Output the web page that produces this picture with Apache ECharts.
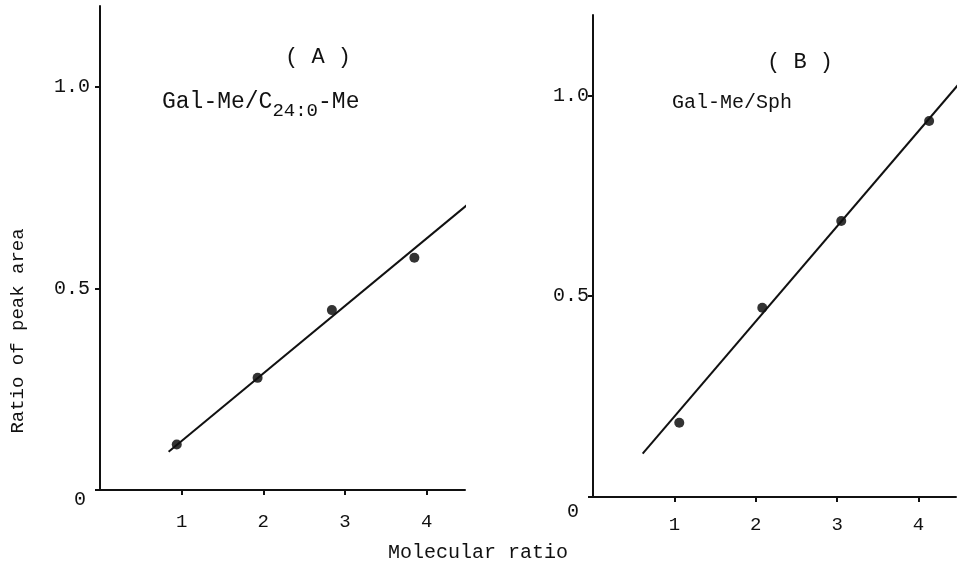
<!DOCTYPE html>
<html>
<head>
<meta charset="utf-8">
<script src="https://cdn.jsdelivr.net/npm/echarts@6/dist/echarts.min.js"></script>
<style>
html,body{margin:0;padding:0;background:#fff}
#main{width:966px;height:571px}
</style>
</head>
<body>
<div id="main"></div>
<script>
// panel A : Gal-Me / C24:0-Me
var ratioA = [0.94, 1.93, 2.84, 3.85];
var areaA = [0.113, 0.278, 0.446, 0.576];
var fitRatioA = [0.84, 4.54];
var fitAreaA = [0.095, 0.714];

// panel B : Gal-Me / Sph
var ratioB = [1.06, 2.08, 3.05, 4.13];
var areaB = [0.185, 0.471, 0.687, 0.936];
var fitRatioB = [0.61, 4.54];
var fitAreaB = [0.108, 1.039];

var xTicks = [1, 2, 3, 4];
var yTicks = [0, 0.5, 1.0];

var mono = '"Liberation Mono", "DejaVu Sans Mono", monospace';
var ink = '#111';

function pairs(xs, ys) {
  return xs.map(function (x, i) { return [x, ys[i]]; });
}

function xAx(idx, max, margin) {
  return {
    type: 'value', gridIndex: idx, min: 0, max: max,
    axisLine: { lineStyle: { color: ink, width: 2 } },
    axisTick: { customValues: xTicks, length: 5, lineStyle: { color: ink, width: 2 } },
    axisLabel: { customValues: xTicks, color: ink, fontSize: 19, fontFamily: mono, margin: margin },
    splitLine: { show: false }
  };
}

function yAx(idx, margin, zeroPad) {
  return {
    type: 'value', gridIndex: idx, min: 0, max: 1.2,
    axisLine: { show: true, lineStyle: { color: ink, width: 2 } },
    axisTick: { show: true, customValues: yTicks, length: 5, lineStyle: { color: ink, width: 2 } },
    axisLabel: {
      customValues: yTicks, color: ink, fontSize: 20, fontFamily: mono, margin: margin,
      formatter: function (v) { return v === 0 ? '{z|0}' : v.toFixed(1); },
      rich: { z: { fontSize: 20, fontFamily: mono, color: ink, padding: zeroPad } }
    },
    splitLine: { show: false }
  };
}

var chart = echarts.init(document.getElementById('main'));
var option = {
  backgroundColor: '#fff',
  animation: false,
  grid: [
    { left: 100, top: 6, width: 365, height: 484 },
    { left: 593, top: 15, width: 363, height: 482 }
  ],
  xAxis: [xAx(0, 4.47, 22), xAx(1, 4.46, 18)],
  yAxis: [yAx(0, 10, [20, 4, 0, 0]), yAx(1, 4, [30, 10, 0, 0])],
  series: [
    {
      type: 'line', xAxisIndex: 0, yAxisIndex: 0, clip: false,
      data: pairs(fitRatioA, fitAreaA), showSymbol: false,
      lineStyle: { color: ink, width: 2 }
    },
    {
      type: 'scatter', xAxisIndex: 0, yAxisIndex: 0,
      data: pairs(ratioA, areaA), symbolSize: 10,
      itemStyle: { color: '#000' }
    },
    {
      type: 'line', xAxisIndex: 1, yAxisIndex: 1, clip: false,
      data: pairs(fitRatioB, fitAreaB), showSymbol: false,
      lineStyle: { color: ink, width: 2 }
    },
    {
      type: 'scatter', xAxisIndex: 1, yAxisIndex: 1,
      data: pairs(ratioB, areaB), symbolSize: 10,
      itemStyle: { color: '#000' }
    }
  ],
  graphic: [
    { type: 'text', x: 318, y: 57, style: { text: '( A )', fill: ink, font: '22px ' + mono, align: 'center', verticalAlign: 'middle' } },
    { type: 'text', x: 162, y: 102, style: {
        text: '{m|Gal-Me/C}{s|24:0}{m|-Me}', align: 'left', verticalAlign: 'middle',
        rich: {
          m: { fontSize: 23, fontFamily: mono, fill: ink, color: ink, lineHeight: 36 },
          s: { fontSize: 19, fontFamily: mono, fill: ink, color: ink, lineHeight: 16, verticalAlign: 'bottom' }
        }
      } },
    { type: 'text', x: 800, y: 62, style: { text: '( B )', fill: ink, font: '22px ' + mono, align: 'center', verticalAlign: 'middle' } },
    { type: 'text', x: 672, y: 103, style: { text: 'Gal-Me/Sph', fill: ink, font: '20px ' + mono, align: 'left', verticalAlign: 'middle' } },
    { type: 'text', x: 18, y: 331, rotation: Math.PI / 2, style: { text: 'Ratio of peak area', fill: ink, font: '19px ' + mono, align: 'center', verticalAlign: 'middle' } },
    { type: 'text', x: 478, y: 553, style: { text: 'Molecular ratio', fill: ink, font: '20px ' + mono, align: 'center', verticalAlign: 'middle' } }
  ]
};
chart.setOption(option);
</script>
</body>
</html>
